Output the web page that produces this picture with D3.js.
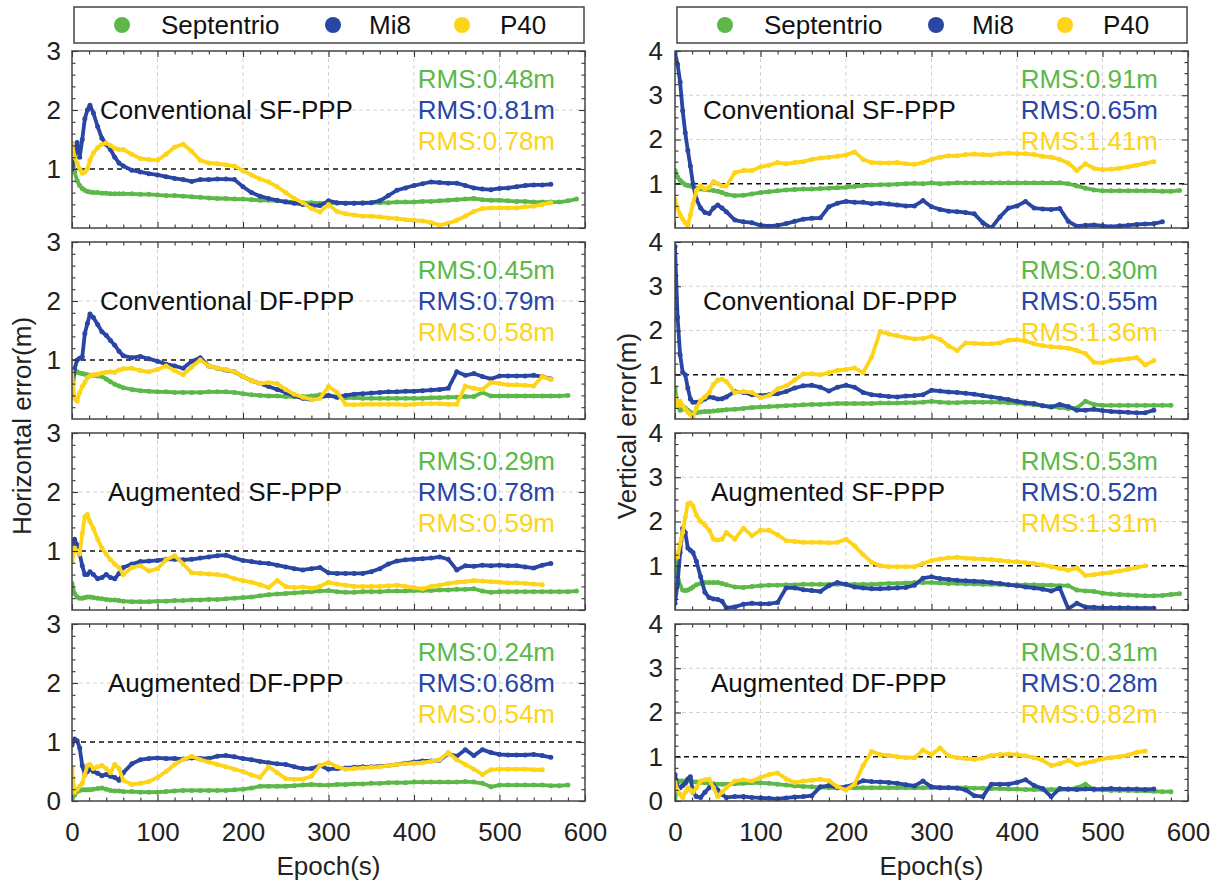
<!DOCTYPE html>
<html><head><meta charset="utf-8">
<script src="https://cdn.jsdelivr.net/npm/d3@7"></script>
<style>body{margin:0;background:#fff;} svg{display:block;}</style>
</head><body>
<script>
// ---------------- DATA ----------------
const epochs = [0,3,6,9,12,15,18,21,25,30,35,40,45,50,55,60,
 70,80,90,100,110,120,130,140,150,
 160,170,180,190,200,210,220,230,240,250,
 260,270,280,290,300,310,320,330,340,350,
 360,370,380,390,400,410,420,430,440,450,
 460,470,480,490,500,510,520,530,540,550,
 560,570,580,590];
const seriesNames = ["Septentrio","Mi8","P40"];
const panelTitles = ["Conventional SF-PPP","Conventional DF-PPP","Augmented SF-PPP","Augmented DF-PPP"];
const xTicks = [0,100,200,300,400,500,600];
const yTicksH = [0,1,2,3];
const yTicksV = [0,1,2,3,4];
const rmsH_Sept = [0.48,0.45,0.29,0.24], rmsH_Mi8 = [0.81,0.79,0.78,0.68], rmsH_P40 = [0.78,0.58,0.59,0.54];
const rmsV_Sept = [0.91,0.30,0.53,0.31], rmsV_Mi8 = [0.65,0.55,0.52,0.28], rmsV_P40 = [1.41,1.36,1.31,0.82];

// Horizontal error, Conventional SF-PPP
const H_CSF_G = [1.25,0.95,0.8,0.72,0.67,0.64,0.62,0.61,0.6,0.6,0.59,0.59,0.58,0.58,0.58,0.58,
 0.58,0.57,0.57,0.56,0.55,0.55,0.54,0.53,0.52,
 0.51,0.5,0.5,0.49,0.49,0.48,0.47,0.47,0.46,0.45,
 0.44,0.43,0.43,0.42,0.42,0.42,0.42,0.42,0.43,0.43,
 0.43,0.43,0.44,0.44,0.44,0.45,0.45,0.46,0.47,0.48,
 0.49,0.5,0.48,0.47,0.47,0.46,0.45,0.45,0.44,0.44,
 0.44,0.44,0.46,0.49];
const H_CSF_B = [1.0,1.2,1.45,1.2,1.5,1.85,2.0,2.08,1.95,1.72,1.52,1.42,1.33,1.2,1.1,1.05,
 0.98,0.95,0.92,0.9,0.87,0.84,0.82,0.79,0.82,
 0.82,0.83,0.83,0.82,0.7,0.6,0.54,0.5,0.47,0.44,
 0.42,0.4,0.38,0.38,0.46,0.43,0.42,0.42,0.42,0.43,
 0.46,0.55,0.64,0.68,0.72,0.75,0.78,0.77,0.76,0.76,
 0.72,0.68,0.66,0.65,0.67,0.68,0.7,0.72,0.73,0.73,
 0.74,null,null,null];
const H_CSF_Y = [1.44,1.2,1.1,1.0,0.93,0.95,1.0,1.15,1.27,1.36,1.42,1.44,1.4,1.35,1.33,1.33,
 1.25,1.18,1.16,1.15,1.25,1.37,1.42,1.3,1.15,
 1.1,1.09,1.07,1.05,0.97,0.9,0.83,0.78,0.7,0.6,
 0.5,0.43,0.33,0.27,0.4,0.28,0.24,0.22,0.2,0.2,
 0.19,0.17,0.16,0.14,0.13,0.12,0.09,0.05,0.08,0.13,
 0.2,0.28,0.33,0.34,0.34,0.34,0.34,0.36,0.37,0.4,
 0.43,null,null,null];
// Horizontal error, Conventional DF-PPP
const H_CDF_G = [0.72,0.78,0.8,0.78,0.77,0.76,0.75,0.74,0.74,0.73,0.72,0.68,0.63,0.59,0.56,0.53,
 0.5,0.48,0.47,0.46,0.46,0.45,0.45,0.45,0.45,
 0.46,0.46,0.46,0.45,0.43,0.41,0.4,0.39,0.39,0.38,
 0.38,0.38,0.39,0.41,0.4,0.37,0.36,0.36,0.35,0.35,
 0.35,0.35,0.35,0.35,0.35,0.35,0.36,0.36,0.37,0.37,
 0.38,0.38,0.45,0.39,0.39,0.39,0.39,0.39,0.39,0.39,
 0.39,0.39,0.4,null];
const H_CDF_B = [0.4,0.85,1.0,1.03,1.05,1.45,1.62,1.78,1.72,1.6,1.48,1.42,1.33,1.25,1.15,1.07,
 1.04,1.06,1.02,0.98,0.93,0.9,0.86,0.98,1.04,
 0.9,0.86,0.83,0.8,0.72,0.65,0.6,0.55,0.5,0.45,
 0.39,0.35,0.33,0.36,0.4,0.37,0.4,0.42,0.43,0.44,
 0.45,0.46,0.46,0.47,0.47,0.48,0.49,0.5,0.52,0.8,
 0.74,0.77,0.72,0.68,0.73,0.73,0.73,0.73,0.74,0.72,
 0.68,null,null,null];
const H_CDF_Y = [0.8,0.35,0.3,0.45,0.55,0.62,0.7,0.73,0.75,0.76,0.78,0.79,0.8,0.79,0.83,0.85,
 0.86,0.82,0.8,0.84,0.9,0.82,0.75,0.88,1.0,
 0.9,0.86,0.84,0.8,0.72,0.65,0.6,0.62,0.6,0.5,
 0.42,0.37,0.33,0.35,0.55,0.45,0.25,0.24,0.25,0.25,
 0.25,0.25,0.25,0.24,0.25,0.26,0.26,0.26,0.25,0.25,
 0.56,0.52,0.5,0.62,0.6,0.58,0.58,0.57,0.56,0.72,
 0.67,null,null,null];
// Horizontal error, Augmented SF-PPP
const H_ASF_G = [0.45,0.28,0.22,0.2,0.2,0.21,0.22,0.22,0.21,0.2,0.19,0.18,0.17,0.17,0.16,0.15,
 0.14,0.14,0.14,0.15,0.15,0.16,0.16,0.17,0.17,
 0.18,0.18,0.19,0.2,0.21,0.22,0.24,0.26,0.27,0.28,
 0.29,0.3,0.31,0.32,0.33,0.31,0.3,0.3,0.31,0.31,
 0.31,0.32,0.32,0.32,0.33,0.33,0.33,0.34,0.34,0.35,
 0.35,0.36,0.32,0.3,0.31,0.31,0.31,0.31,0.31,0.31,
 0.31,0.31,0.31,0.32];
const H_ASF_B = [1.0,1.2,1.1,0.95,0.75,0.6,0.6,0.65,0.6,0.53,0.55,0.6,0.55,0.53,0.62,0.72,
 0.78,0.82,0.83,0.84,0.86,0.86,0.85,0.86,0.88,
 0.9,0.92,0.93,0.88,0.84,0.82,0.8,0.79,0.76,0.73,
 0.7,0.68,0.7,0.72,0.63,0.62,0.62,0.62,0.62,0.65,
 0.7,0.78,0.83,0.85,0.86,0.87,0.88,0.9,0.86,0.68,
 0.75,0.74,0.76,0.75,0.76,0.75,0.75,0.73,0.71,0.76,
 0.79,null,null,null];
const H_ASF_Y = [0.82,1.05,1.0,0.95,1.3,1.58,1.62,1.5,1.38,1.2,1.05,0.95,0.85,0.78,0.72,0.6,
 0.72,0.75,0.66,0.7,0.85,0.92,0.78,0.63,0.62,
 0.61,0.6,0.58,0.53,0.5,0.47,0.43,0.38,0.5,0.4,
 0.38,0.39,0.37,0.4,0.47,0.44,0.42,0.4,0.4,0.4,
 0.4,0.41,0.42,0.4,0.38,0.36,0.4,0.42,0.45,0.47,
 0.48,0.5,0.49,0.48,0.47,0.46,0.46,0.45,0.44,0.43,
 null,null,null,null];
// Horizontal error, Augmented DF-PPP
const H_ADF_G = [0.03,0.1,0.16,0.18,0.19,0.19,0.19,0.19,0.2,0.21,0.22,0.2,0.18,0.17,0.17,0.16,
 0.16,0.15,0.15,0.15,0.16,0.17,0.18,0.18,0.18,
 0.18,0.18,0.18,0.19,0.2,0.22,0.25,0.25,0.25,0.25,
 0.26,0.27,0.28,0.27,0.27,0.28,0.28,0.29,0.29,0.3,
 0.3,0.31,0.31,0.31,0.32,0.32,0.32,0.32,0.32,0.32,
 0.33,0.32,0.3,0.24,0.27,0.27,0.27,0.27,0.27,0.27,
 0.26,0.26,0.27,null];
const H_ADF_B = [0.95,1.05,1.02,0.9,0.6,0.45,0.5,0.54,0.5,0.47,0.43,0.45,0.42,0.4,0.35,0.48,
 0.63,0.7,0.72,0.73,0.72,0.72,0.71,0.73,0.72,
 0.72,0.76,0.77,0.75,0.72,0.7,0.67,0.65,0.63,0.62,
 0.58,0.55,0.55,0.6,0.54,0.55,0.56,0.57,0.58,0.58,
 0.59,0.6,0.62,0.64,0.66,0.68,0.68,0.69,0.8,0.76,
 0.87,0.77,0.87,0.82,0.79,0.78,0.78,0.78,0.79,0.77,
 0.74,null,null,null];
const H_ADF_Y = [0.55,0.15,0.2,0.25,0.3,0.45,0.6,0.62,0.55,0.58,0.6,0.55,0.48,0.62,0.55,0.35,
 0.28,0.3,0.33,0.4,0.5,0.62,0.7,0.76,0.7,
 0.66,0.62,0.58,0.54,0.5,0.44,0.4,0.58,0.48,0.38,
 0.37,0.37,0.42,0.6,0.65,0.58,0.54,0.55,0.56,0.57,
 0.58,0.6,0.62,0.63,0.64,0.65,0.67,0.7,0.82,0.7,
 0.62,0.54,0.45,0.53,0.54,0.54,0.54,0.54,0.53,0.53,
 null,null,null,null];
// Vertical error, Conventional SF-PPP
const V_CSF_G = [1.3,1.15,1.08,1.02,0.98,0.96,0.95,0.93,0.9,0.88,0.87,0.86,0.85,0.83,0.8,0.76,
 0.73,0.74,0.77,0.8,0.82,0.84,0.86,0.87,0.88,
 0.88,0.89,0.9,0.91,0.92,0.94,0.96,0.97,0.98,0.98,
 0.99,1.0,1.01,1.0,1.02,1.0,1.01,1.02,1.02,1.02,
 1.02,1.02,1.02,1.02,1.02,1.02,1.02,1.02,1.02,1.02,
 1.0,0.95,0.9,0.86,0.84,0.84,0.84,0.84,0.84,0.84,
 0.84,0.83,0.83,0.85];
const V_CSF_B = [3.95,3.7,3.3,2.65,2.15,1.75,1.4,1.0,0.65,0.45,0.35,0.33,0.45,0.52,0.45,0.37,
 0.18,0.14,0.12,0.06,0.04,0.06,0.1,0.15,0.2,
 0.22,0.23,0.48,0.56,0.6,0.58,0.58,0.55,0.56,0.54,
 0.52,0.5,0.5,0.62,0.48,0.42,0.38,0.37,0.35,0.32,
 0.12,0.0,0.25,0.45,0.5,0.6,0.45,0.43,0.42,0.44,
 0.15,0.04,0.06,0.07,0.05,0.03,0.05,0.06,0.08,0.09,
 0.1,0.14,null,null];
const V_CSF_Y = [0.65,0.45,0.3,0.2,0.12,0.05,0.3,0.55,0.85,0.95,0.88,0.92,1.05,1.0,0.95,0.95,
 1.25,1.3,1.3,1.38,1.42,1.48,1.45,1.48,1.5,
 1.55,1.58,1.6,1.62,1.65,1.72,1.55,1.48,1.47,1.47,
 1.48,1.45,1.44,1.48,1.55,1.6,1.63,1.63,1.66,1.67,
 1.66,1.65,1.68,1.69,1.68,1.68,1.66,1.62,1.6,1.55,
 1.47,1.3,1.45,1.35,1.32,1.33,1.35,1.38,1.42,1.46,
 1.5,null,null,null];
// Vertical error, Conventional DF-PPP
const V_CDF_G = [0.7,0.3,0.2,0.22,0.25,0.2,0.15,0.13,0.14,0.16,0.17,0.17,0.18,0.19,0.2,0.21,
 0.22,0.24,0.26,0.27,0.28,0.29,0.3,0.31,0.32,
 0.33,0.33,0.34,0.35,0.35,0.35,0.35,0.35,0.36,0.36,
 0.36,0.37,0.37,0.38,0.4,0.38,0.37,0.37,0.38,0.38,
 0.38,0.38,0.38,0.37,0.36,0.34,0.32,0.3,0.28,0.26,
 0.24,0.25,0.4,0.33,0.31,0.31,0.31,0.31,0.31,0.31,
 0.31,0.31,0.31,null];
const V_CDF_B = [3.9,2.3,1.45,1.05,1.0,0.7,0.45,0.38,0.38,0.4,0.45,0.5,0.48,0.45,0.46,0.5,
 0.62,0.6,0.55,0.53,0.55,0.57,0.62,0.7,0.75,
 0.76,0.72,0.63,0.72,0.76,0.72,0.6,0.55,0.53,0.51,
 0.5,0.52,0.53,0.55,0.65,0.63,0.61,0.6,0.58,0.56,
 0.53,0.5,0.47,0.44,0.4,0.37,0.35,0.3,0.27,0.33,
 0.28,0.2,0.2,0.22,0.19,0.17,0.16,0.15,0.14,0.14,
 0.2,null,null,null];
const V_CDF_Y = [0.5,0.3,0.4,0.3,0.22,0.15,0.1,0.05,0.25,0.42,0.5,0.6,0.78,0.88,0.9,0.85,
 0.6,0.62,0.6,0.48,0.53,0.68,0.75,0.88,1.02,
 1.02,1.0,1.05,1.1,1.12,1.15,1.05,1.4,1.98,1.92,
 1.88,1.84,1.81,1.82,1.87,1.8,1.65,1.55,1.72,1.71,
 1.7,1.7,1.72,1.78,1.79,1.76,1.7,1.66,1.63,1.62,
 1.6,1.55,1.48,1.28,1.27,1.32,1.34,1.36,1.39,1.22,
 1.32,null,null,null];
// Vertical error, Augmented SF-PPP
const V_ASF_G = [1.2,0.8,0.55,0.45,0.44,0.45,0.48,0.52,0.57,0.6,0.62,0.62,0.62,0.62,0.6,0.57,
 0.52,0.51,0.53,0.55,0.56,0.56,0.57,0.57,0.58,
 0.58,0.58,0.58,0.58,0.58,0.58,0.58,0.58,0.59,0.6,
 0.6,0.61,0.62,0.62,0.62,0.61,0.6,0.6,0.59,0.59,
 0.58,0.58,0.58,0.57,0.57,0.57,0.57,0.56,0.56,0.55,
 0.55,0.45,0.43,0.42,0.38,0.36,0.35,0.34,0.33,0.32,
 0.32,0.33,0.35,0.37];
const V_ASF_B = [0.15,0.6,1.3,1.85,1.75,1.4,1.35,1.3,1.1,0.75,0.4,0.28,0.25,0.24,0.2,0.05,
 0.07,0.13,0.15,0.14,0.14,0.17,0.5,0.5,0.46,
 0.44,0.42,0.55,0.62,0.58,0.52,0.5,0.48,0.48,0.49,
 0.5,0.51,0.56,0.72,0.75,0.71,0.69,0.67,0.66,0.65,
 0.64,0.62,0.6,0.57,0.55,0.52,0.5,0.47,0.43,0.5,
 0.03,0.15,0.07,0.06,0.05,0.05,0.05,0.05,0.04,0.04,
 0.04,null,null,null];
const V_ASF_Y = [1.3,1.2,1.5,1.75,2.1,2.4,2.42,2.35,2.15,2.0,1.92,1.8,1.6,1.58,1.6,1.75,
 1.6,1.85,1.68,1.8,1.8,1.7,1.57,1.55,1.53,
 1.53,1.53,1.52,1.53,1.6,1.45,1.25,1.08,1.0,0.98,
 0.98,0.98,0.98,1.05,1.12,1.15,1.18,1.19,1.17,1.16,
 1.15,1.14,1.12,1.1,1.09,1.07,1.05,1.02,0.98,0.94,
 0.9,0.95,0.78,0.8,0.83,0.85,0.88,0.92,0.96,1.0,
 null,null,null,null];
// Vertical error, Augmented DF-PPP
const V_ADF_G = [0.0,0.42,0.45,0.45,0.45,0.45,0.45,0.44,0.43,0.42,0.41,0.4,0.39,0.38,0.38,0.38,
 0.39,0.4,0.41,0.41,0.4,0.38,0.36,0.34,0.33,
 0.32,0.31,0.3,0.3,0.3,0.3,0.3,0.3,0.3,0.3,
 0.3,0.3,0.3,0.3,0.3,0.3,0.3,0.3,0.3,0.29,
 0.29,0.28,0.28,0.27,0.27,0.26,0.26,0.26,0.26,0.26,
 0.26,0.3,0.38,0.25,0.25,0.24,0.24,0.24,0.23,0.23,
 0.22,0.21,0.21,null];
const V_ADF_B = [0.6,0.3,0.3,0.35,0.4,0.5,0.55,0.2,0.1,0.08,0.2,0.3,0.35,0.25,0.15,0.08,
 0.1,0.1,0.08,0.07,0.06,0.05,0.07,0.09,0.1,
 0.12,0.32,0.35,0.3,0.32,0.38,0.46,0.44,0.43,0.42,
 0.4,0.37,0.34,0.45,0.32,0.3,0.3,0.29,0.25,0.12,
 0.1,0.38,0.38,0.38,0.42,0.48,0.35,0.28,0.1,0.28,
 0.27,0.26,0.27,0.27,0.27,0.28,0.27,0.27,0.27,0.26,
 0.27,null,null,null];
const V_ADF_Y = [0.42,0.25,0.15,0.08,0.2,0.3,0.25,0.2,0.3,0.45,0.48,0.49,0.3,0.1,0.2,0.3,
 0.45,0.48,0.45,0.53,0.6,0.63,0.5,0.42,0.45,
 0.47,0.49,0.46,0.32,0.25,0.38,0.8,1.12,1.05,1.03,
 1.0,0.98,0.98,1.15,1.05,1.2,1.02,0.98,0.96,0.94,
 0.97,1.03,1.05,1.06,1.05,1.02,0.98,0.92,0.8,0.84,
 0.92,0.82,0.86,0.9,0.95,0.98,1.0,1.04,1.1,1.13,
 null,null,null,null];

// ---------------- LAYOUT / STYLE ----------------
const FONT = '"Liberation Sans", Arial, Helvetica, sans-serif';
const colors = ["#5cb848","#2a46a4","#fdd418"];
const panelTops = [51,242,433,624], panelH = 177;
const columns = [
  {x0:72, x1:585, ymax:3, yTicks:yTicksH, minorStep:0.2, labelPad:11, ytitle:"Horizontal error(m)", ytitleX:22,
   series:[[H_CSF_G,H_CSF_B,H_CSF_Y],[H_CDF_G,H_CDF_B,H_CDF_Y],[H_ASF_G,H_ASF_B,H_ASF_Y],[H_ADF_G,H_ADF_B,H_ADF_Y]],
   rms:[rmsH_Sept,rmsH_Mi8,rmsH_P40]},
  {x0:675, x1:1188, ymax:4, yTicks:yTicksV, minorStep:0.25, labelPad:12, ytitle:"Vertical error(m)", ytitleX:627,
   series:[[V_CSF_G,V_CSF_B,V_CSF_Y],[V_CDF_G,V_CDF_B,V_CDF_Y],[V_ASF_G,V_ASF_B,V_ASF_Y],[V_ADF_G,V_ADF_B,V_ADF_Y]],
   rms:[rmsV_Sept,rmsV_Mi8,rmsV_P40]}
];
const titleOffsets = [28,28,36,36];

const svg = d3.select("body").append("svg").attr("width",1217).attr("height",888)
  .style("font-family",FONT);
const defs = svg.append("defs");

const xMinor = d3.range(20,600,20).filter(v=>v%100!==0);

function styleAxis(g){
  g.select(".domain").remove();
  g.selectAll(".tick line").attr("stroke","#333").attr("stroke-width",1.1);
  g.selectAll(".tick text").attr("fill","#222").style("font-family",FONT).style("font-size","26px");
}

columns.forEach((col,ci)=>{
  const x = d3.scaleLinear().domain([0,600]).range([col.x0,col.x1]);
  const yMinor = d3.range(col.minorStep, col.ymax, col.minorStep).map(v=>+v.toFixed(3)).filter(v=>Math.abs(v-Math.round(v))>1e-6);

  // legend
  const lg = svg.append("g");
  lg.append("rect").attr("x",col.x0+2).attr("y",7).attr("width",col.x1-col.x0-3).attr("height",36)
    .attr("fill","#fff").attr("stroke","#444").attr("stroke-width",1.5);
  const dotOff=[50,261,390], txtOff=[89,297,428];
  seriesNames.forEach((n,i)=>{
    lg.append("circle").attr("cx",col.x0+dotOff[i]).attr("cy",25).attr("r",8).attr("fill",colors[i]);
    lg.append("text").attr("x",col.x0+txtOff[i]).attr("y",34).attr("font-size",26).attr("fill","#111").text(n);
  });

  panelTops.forEach((top,pi)=>{
    const bottom = top+panelH;
    const y = d3.scaleLinear().domain([0,col.ymax]).range([bottom,top]);
    const g = svg.append("g");
    const clipId = `clip${ci}_${pi}`;
    defs.append("clipPath").attr("id",clipId).append("rect")
      .attr("x",col.x0).attr("y",top).attr("width",col.x1-col.x0).attr("height",panelH);

    // grid
    g.append("g").selectAll("line").data(xTicks.filter(v=>v>0&&v<600)).join("line")
      .attr("x1",d=>x(d)).attr("x2",d=>x(d)).attr("y1",top).attr("y2",bottom)
      .attr("stroke","#c8c8c8").attr("stroke-width",0.8).attr("stroke-dasharray","4,3");
    g.append("g").selectAll("line").data(col.yTicks.filter(v=>v>1&&v<col.ymax)).join("line")
      .attr("x1",col.x0).attr("x2",col.x1).attr("y1",d=>y(d)).attr("y2",d=>y(d))
      .attr("stroke","#c8c8c8").attr("stroke-width",0.8).attr("stroke-dasharray","4,3");
    g.append("line").attr("x1",col.x0).attr("x2",col.x1).attr("y1",y(1)).attr("y2",y(1))
      .attr("stroke","#111").attr("stroke-width",1.5).attr("stroke-dasharray","5,4");

    // data
    const dg = g.append("g").attr("clip-path",`url(#${clipId})`);
    col.series[pi].forEach((arr,si)=>{
      const pts = epochs.map((t,i)=>[t,arr[i]]).filter(d=>d[1]!==null && d[1]!==undefined);
      const line = d3.line().x(d=>x(d[0])).y(d=>y(d[1]));
      dg.append("path").attr("d",line(pts)).attr("fill","none").attr("stroke",colors[si])
        .attr("stroke-width",3.8).attr("stroke-linejoin","round").attr("stroke-linecap","round");
      dg.append("g").selectAll("circle").data(pts).join("circle")
        .attr("cx",d=>x(d[0])).attr("cy",d=>y(d[1])).attr("r",2.5).attr("fill",colors[si]);
    });

    // texts
    g.append("text").attr("x",col.x0+titleOffsets[pi]).attr("y",top+68).attr("font-size",26)
      .attr("fill","#111").text(panelTitles[pi]);
    col.rms.forEach((r,si)=>{
      g.append("text").attr("x",col.x1-30).attr("y",top+37+si*31).attr("text-anchor","end")
        .attr("font-size",26).attr("fill",colors[si]).text(`RMS:${r[pi].toFixed(2)}m`);
    });

    // axes: minor + major ticks on all four sides, inward
    const isBottom = pi===panelTops.length-1;
    g.append("g").attr("transform",`translate(0,${bottom})`)
      .call(d3.axisBottom(x).tickValues(xMinor).tickSize(-3.5).tickSizeOuter(0).tickFormat("")).call(styleAxis);
    g.append("g").attr("transform",`translate(0,${bottom})`)
      .call(d3.axisBottom(x).tickValues(xTicks).tickSize(-6).tickSizeOuter(0).tickPadding(22)
        .tickFormat(isBottom? d3.format("d") : "")).call(styleAxis);
    g.append("g").attr("transform",`translate(0,${top})`)
      .call(d3.axisTop(x).tickValues(xMinor).tickSize(-3.5).tickSizeOuter(0).tickFormat("")).call(styleAxis);
    g.append("g").attr("transform",`translate(0,${top})`)
      .call(d3.axisTop(x).tickValues(xTicks).tickSize(-6).tickSizeOuter(0).tickFormat("")).call(styleAxis);
    g.append("g").attr("transform",`translate(${col.x0},0)`)
      .call(d3.axisLeft(y).tickValues(yMinor).tickSize(-3.5).tickSizeOuter(0).tickFormat("")).call(styleAxis);
    const yLab = isBottom ? col.yTicks : col.yTicks.filter(v=>v>0);
    g.append("g").attr("transform",`translate(${col.x0},0)`)
      .call(d3.axisLeft(y).tickValues(yLab).tickSize(-6).tickSizeOuter(0).tickPadding(col.labelPad).tickFormat(d3.format("d"))).call(styleAxis);
    g.append("g").attr("transform",`translate(${col.x1},0)`)
      .call(d3.axisRight(y).tickValues(yMinor).tickSize(-3.5).tickSizeOuter(0).tickFormat("")).call(styleAxis);
    g.append("g").attr("transform",`translate(${col.x1},0)`)
      .call(d3.axisRight(y).tickValues(col.yTicks).tickSize(-6).tickSizeOuter(0).tickFormat("")).call(styleAxis);

    g.append("rect").attr("x",col.x0).attr("y",top).attr("width",col.x1-col.x0).attr("height",panelH)
      .attr("fill","none").attr("stroke","#444").attr("stroke-width",1.5);
  });

  // axis titles
  svg.append("text").attr("x",(col.x0+col.x1)/2).attr("y",875).attr("text-anchor","middle")
    .attr("font-size",26).attr("fill","#222").text("Epoch(s)");
  svg.append("text").attr("transform",`translate(${col.ytitleX},426) rotate(-90)`)
    .attr("text-anchor","middle").attr("dy","0.35em").attr("font-size",26).attr("fill","#222").text(col.ytitle);
});
</script>
</body></html>
